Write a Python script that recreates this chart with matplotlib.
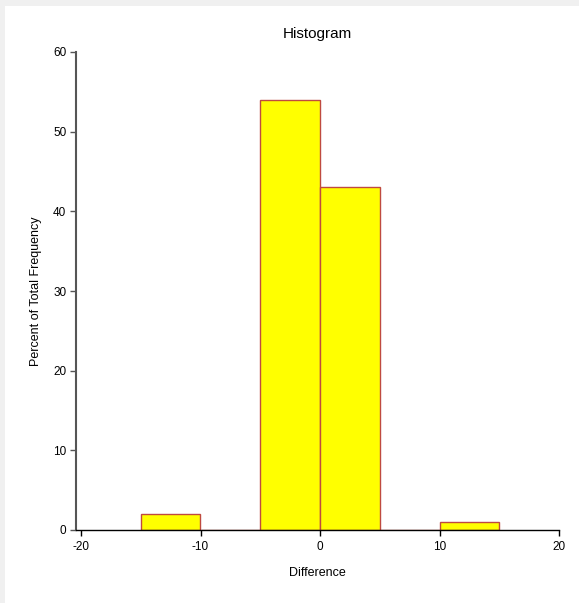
import matplotlib.pyplot as plt
from matplotlib.patches import Rectangle

plt.rcParams['font.family'] = ['Liberation Sans', 'DejaVu Sans']
plt.rcParams['axes.unicode_minus'] = False

# histogram bins (left edges) and percent of total frequency
bin_left = [-15, -10, -5, 0, 5, 10]
bin_width = 5
percent = [2, 0, 54, 43, 0, 1]

W, H = 579, 603
fig = plt.figure(figsize=(W / 100, H / 100), dpi=100)
fig.patch.set_facecolor('#f0f0f0')
# white panel inside the grey frame
fig.patches.append(Rectangle((5 / W, 0), 1, 597 / H, transform=fig.transFigure,
                             facecolor='white', edgecolor='none', zorder=-10))

left, right, bottom, top = 76, 559, 73, 551
ax = fig.add_axes([left / W, bottom / H, (right - left) / W, (top - bottom) / H])
ax.set_facecolor('none')

ax.bar(bin_left, percent, width=bin_width, align='edge',
       color='#ffff00', edgecolor='#bf4a40', linewidth=1.0)

px = 40 / (right - left - 5)  # data units per pixel on x
ax.set_xlim(-20 - 5 * px, 20)
ax.set_ylim(0, 60)
ax.set_xticks([-20, -10, 0, 10, 20])
ax.set_yticks([0, 10, 20, 30, 40, 50, 60])

for s in ['top', 'right']:
    ax.spines[s].set_visible(False)
ax.spines['left'].set_color('#555555')
ax.spines['left'].set_linewidth(1.5)
ax.spines['bottom'].set_color('black')
ax.spines['bottom'].set_linewidth(1.0)

ax.tick_params(axis='x', length=4, width=1, color='black', pad=4, labelsize=8.5)
ax.tick_params(axis='y', length=4, width=1, color='#555555', pad=3, labelsize=8.5)

ax.set_title('Histogram', fontsize=11, pad=10)
ax.set_xlabel('Difference', fontsize=9, labelpad=10)
ax.set_ylabel('Percent of Total Frequency', fontsize=9, labelpad=8)

fig.savefig('out.png', dpi=100, facecolor=fig.get_facecolor())
